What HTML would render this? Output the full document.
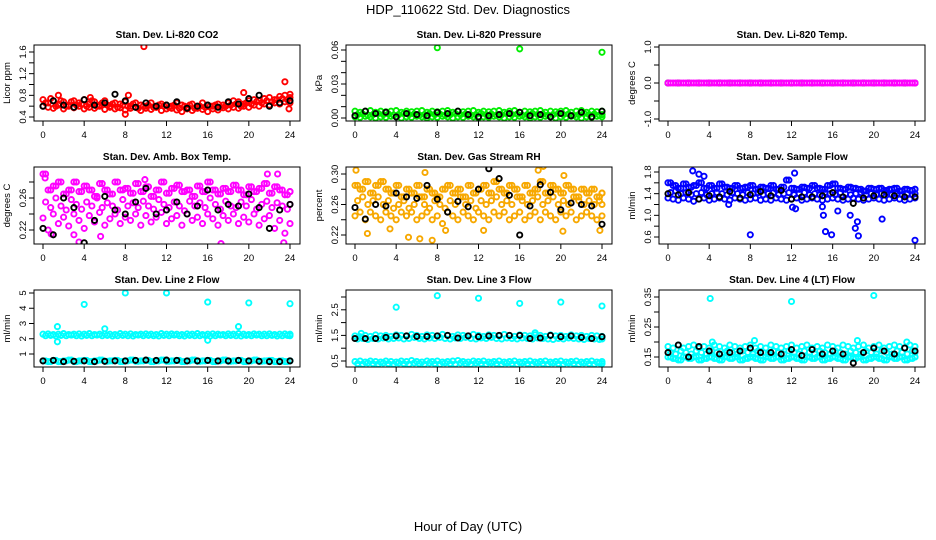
<!DOCTYPE html>
<html><head><meta charset="utf-8"><style>
html,body{margin:0;padding:0;background:#fff;}
svg{display:block;font-family:"Liberation Sans",sans-serif;}
</style></head><body>
<svg id="c" width="936" height="540" viewBox="0 0 936 540">
<text x="468" y="14" text-anchor="middle" font-size="13">HDP_110622  Std. Dev. Diagnostics</text>
<text x="468" y="531" text-anchor="middle" font-size="13">Hour of Day (UTC)</text>
</svg>
<script>
// ---------- data ----------
const halfHours = Array.from({length:49},(_,i)=>i*0.5);
const quarterHours = Array.from({length:49},(_,i)=>Math.min(24,i*0.5+0.25));
const wholeHours = Array.from({length:25},(_,i)=>i);

const co2A=[0.72,0.66,0.7,0.64,0.68,0.62,0.7,0.66,0.72,0.64,0.68,0.62,0.7,0.6,0.66,0.64,0.68,0.6,0.66,0.62,0.6,0.66,0.58,0.64,0.62,0.6,0.66,0.62,0.58,0.64,0.6,0.66,0.62,0.6,0.64,0.62,0.66,0.7,0.68,0.64,0.7,0.72,0.7,0.74,0.76,0.72,0.78,0.8,0.76];
const co2B=[0.6,0.58,0.56,0.62,0.55,0.6,0.57,0.6,0.55,0.58,0.56,0.6,0.54,0.58,0.55,0.57,0.53,0.56,0.58,0.52,0.56,0.54,0.58,0.52,0.55,0.56,0.53,0.5,0.55,0.52,0.56,0.54,0.5,0.55,0.53,0.57,0.55,0.58,0.56,0.6,0.58,0.62,0.6,0.64,0.62,0.66,0.64,0.68,0.66];
const co2C=[0.66,0.74,0.6,0.7,0.6,0.68,0.62,0.64,0.6,0.7,0.6,0.66,0.62,0.64,0.58,0.62,0.6,0.64,0.56,0.6,0.62,0.58,0.62,0.6,0.58,0.62,0.56,0.6,0.62,0.56,0.6,0.58,0.6,0.62,0.58,0.6,0.62,0.64,0.6,0.66,0.64,0.68,0.66,0.7,0.68,0.72,0.74,0.72,0.82];
const co2OutX=[9.8,23.5,8,1.5,4.6,8.3,19.5,23.9];
const co2OutY=[1.7,1.05,0.45,0.8,0.76,0.8,0.85,0.55];
const co2Black=[0.6,0.7,0.62,0.58,0.72,0.62,0.66,0.82,0.7,0.58,0.66,0.6,0.62,0.68,0.56,0.6,0.62,0.58,0.68,0.64,0.74,0.8,0.6,0.66,0.7];

const presA=[0.006,0.005,0.006,0.0065,0.005,0.006,0.0055,0.006,0.0065,0.005,0.006,0.0055,0.006,0.0065,0.005,0.006,0.0055,0.006,0.0065,0.005,0.006,0.0055,0.006,0.0065,0.005,0.006,0.0055,0.006,0.0065,0.005,0.006,0.0065,0.005,0.006,0.0055,0.006,0.0065,0.005,0.006,0.0055,0.006,0.0065,0.005,0.006,0.0065,0.005,0.006,0.0055,0.006];
const presB=[0.003,0.0035,0.0025,0.003,0.004,0.003,0.0035,0.0025,0.003,0.004,0.003,0.0035,0.0025,0.003,0.004,0.003,0.0035,0.0025,0.003,0.004,0.003,0.0035,0.0025,0.003,0.004,0.003,0.0035,0.0025,0.003,0.004,0.003,0.0035,0.0025,0.003,0.004,0.003,0.0035,0.0025,0.003,0.004,0.003,0.0035,0.0025,0.003,0.004,0.003,0.0035,0.0025,0.003];
const presC=[0.001,0.0005,0.0015,0.001,0,0.001,0.0005,0.0015,0.001,0,0.001,0.0005,0.0015,0.001,0,0.001,0.0005,0.0015,0.001,0,0.001,0.0005,0.0015,0.001,0,0.001,0.0005,0.0015,0.001,0,0.001,0.0005,0.0015,0.001,0,0.001,0.0005,0.0015,0.001,0,0.001,0.0005,0.0015,0.001,0,0.001,0.0005,0.0015,0.001];
const presOutX=[8,16,24];
const presOutY=[0.062,0.061,0.058];
const presBlack=[0.002,0.006,0.004,0.005,0.001,0.004,0.003,0.002,0.005,0.004,0.006,0.003,0.001,0.002,0.003,0.004,0.005,0.002,0.003,0.001,0.004,0.002,0.005,0.001,0.006];

const tempMag=Array(49).fill(0);
const tempBlack=Array(25).fill(0);

const ambA=[0.29,0.27,0.275,0.28,0.265,0.27,0.28,0.268,0.275,0.27,0.262,0.278,0.27,0.265,0.28,0.27,0.272,0.266,0.278,0.268,0.274,0.262,0.27,0.28,0.266,0.272,0.276,0.268,0.27,0.262,0.275,0.268,0.28,0.27,0.265,0.272,0.268,0.276,0.27,0.264,0.274,0.268,0.272,0.278,0.266,0.274,0.27,0.264,0.268];
const ambB=[0.255,0.248,0.26,0.25,0.245,0.258,0.252,0.246,0.255,0.25,0.26,0.248,0.254,0.25,0.245,0.258,0.25,0.254,0.248,0.256,0.25,0.246,0.258,0.252,0.248,0.255,0.25,0.244,0.256,0.25,0.254,0.248,0.26,0.252,0.246,0.256,0.25,0.248,0.255,0.25,0.258,0.246,0.252,0.256,0.248,0.254,0.25,0.246,0.252];
const ambC=[0.235,0.22,0.24,0.228,0.236,0.225,0.24,0.232,0.222,0.238,0.23,0.242,0.226,0.234,0.24,0.228,0.236,0.232,0.24,0.226,0.238,0.23,0.236,0.242,0.228,0.234,0.238,0.226,0.24,0.232,0.236,0.228,0.24,0.234,0.226,0.238,0.232,0.24,0.228,0.236,0.23,0.24,0.226,0.234,0.238,0.222,0.232,0.216,0.228];
const ambOutX=[0.2,0.8,3.5,17.3,21.8,22.8,23.4,9.9,5.6,3.0];
const ambOutY=[0.285,0.215,0.205,0.203,0.29,0.29,0.204,0.283,0.212,0.214];
const ambBlack=[0.222,0.214,0.26,0.248,0.204,0.232,0.262,0.245,0.24,0.255,0.272,0.24,0.245,0.255,0.24,0.25,0.27,0.245,0.252,0.25,0.265,0.248,0.222,0.245,0.252];

const rhA=[0.285,0.28,0.29,0.275,0.285,0.29,0.28,0.275,0.285,0.27,0.28,0.275,0.285,0.27,0.28,0.275,0.27,0.28,0.285,0.275,0.28,0.27,0.285,0.275,0.28,0.285,0.275,0.29,0.28,0.275,0.285,0.28,0.27,0.285,0.275,0.28,0.29,0.275,0.285,0.28,0.275,0.285,0.28,0.27,0.28,0.275,0.28,0.27,0.275];
const rhB=[0.265,0.27,0.26,0.265,0.27,0.26,0.265,0.255,0.26,0.265,0.255,0.26,0.27,0.26,0.255,0.265,0.26,0.255,0.265,0.26,0.27,0.26,0.265,0.255,0.265,0.26,0.265,0.27,0.26,0.265,0.26,0.27,0.265,0.26,0.265,0.27,0.26,0.265,0.27,0.26,0.265,0.26,0.27,0.265,0.26,0.265,0.26,0.265,0.26];
const rhC=[0.245,0.25,0.24,0.25,0.245,0.24,0.25,0.245,0.24,0.25,0.245,0.25,0.24,0.245,0.25,0.24,0.245,0.235,0.25,0.245,0.24,0.25,0.245,0.24,0.25,0.245,0.24,0.25,0.245,0.25,0.24,0.245,0.25,0.24,0.245,0.25,0.24,0.25,0.245,0.24,0.25,0.245,0.25,0.24,0.245,0.25,0.245,0.24,0.245];
const rhOutX=[0.1,1.2,3.4,5.2,6.3,7.5,8.8,12.5,17.8,18.3,20.2,23.8,6.8,20.3];
const rhOutY=[0.305,0.222,0.228,0.217,0.215,0.213,0.226,0.226,0.305,0.31,0.225,0.226,0.302,0.298];
const rhBlack=[0.256,0.241,0.26,0.258,0.275,0.27,0.268,0.285,0.267,0.25,0.264,0.257,0.28,0.307,0.294,0.272,0.22,0.258,0.286,0.276,0.253,0.262,0.26,0.258,0.234];

const flowA=[1.6,1.55,1.5,1.58,1.52,1.55,1.6,1.5,1.55,1.5,1.58,1.52,1.5,1.55,1.5,1.52,1.55,1.48,1.52,1.5,1.55,1.48,1.52,1.65,1.5,1.48,1.52,1.5,1.55,1.5,1.48,1.55,1.58,1.5,1.48,1.52,1.5,1.48,1.45,1.5,1.48,1.5,1.46,1.48,1.5,1.45,1.48,1.46,1.48];
const flowB=[1.42,1.45,1.4,1.42,1.38,1.4,1.42,1.38,1.4,1.42,1.4,1.38,1.42,1.4,1.38,1.42,1.4,1.42,1.38,1.4,1.42,1.38,1.4,1.42,1.38,1.4,1.42,1.38,1.4,1.38,1.42,1.4,1.38,1.42,1.4,1.38,1.4,1.42,1.38,1.4,1.38,1.4,1.42,1.38,1.4,1.38,1.4,1.38,1.4];
const flowC=[1.32,1.3,1.28,1.32,1.3,1.26,1.3,1.32,1.28,1.3,1.32,1.3,1.28,1.32,1.3,1.28,1.3,1.32,1.28,1.3,1.28,1.32,1.3,1.28,1.3,1.32,1.28,1.3,1.32,1.3,1.28,1.3,1.32,1.3,1.28,1.3,1.32,1.3,1.28,1.3,1.32,1.3,1.28,1.3,1.32,1.3,1.28,1.3,1.32];
const flowOutX=[2.4,3,3.5,8,12.3,12.1,15.1,15.3,15.9,16.5,17.7,18.2,18.4,18.5,20.8,24,5.9,12.4,15];
const flowOutY=[1.82,1.76,1.72,0.64,1.78,1.15,1.0,0.7,0.64,1.08,1.0,0.76,0.88,0.62,0.93,0.54,1.2,1.12,1.16];
const flowBlack=[1.4,1.38,1.42,1.3,1.36,1.34,1.44,1.32,1.38,1.44,1.36,1.46,1.3,1.34,1.34,1.36,1.42,1.34,1.22,1.32,1.36,1.38,1.36,1.34,1.34];

const l2A=[2.3,2.32,2.28,2.3,2.34,2.28,2.3,2.32,2.3,2.34,2.28,2.3,2.32,2.3,2.28,2.34,2.3,2.32,2.28,2.3,2.32,2.3,2.28,2.34,2.3,2.32,2.3,2.28,2.32,2.3,2.34,2.28,2.3,2.32,2.3,2.28,2.32,2.3,2.34,2.3,2.28,2.32,2.3,2.3,2.32,2.28,2.3,2.32,2.3];
const l2B=[2.2,2.22,2.18,2.22,2.2,2.24,2.2,2.18,2.22,2.2,2.24,2.2,2.22,2.18,2.2,2.22,2.2,2.18,2.24,2.2,2.22,2.2,2.18,2.22,2.2,2.24,2.2,2.18,2.22,2.2,2.2,2.22,2.18,2.2,2.24,2.2,2.22,2.2,2.18,2.22,2.2,2.24,2.2,2.2,2.22,2.18,2.2,2.22,2.2];
const l2Lo=[0.55,0.5,0.58,0.5,0.55,0.6,0.5,0.55,0.58,0.5,0.55,0.6,0.52,0.55,0.58,0.5,0.55,0.6,0.52,0.55,0.58,0.5,0.55,0.6,0.52,0.55,0.58,0.5,0.55,0.6,0.52,0.55,0.58,0.5,0.55,0.6,0.52,0.55,0.58,0.5,0.55,0.6,0.52,0.55,0.58,0.5,0.55,0.5,0.55];
const l2OutX=[1.4,1.4,4,6,8,12,16,16,19,20,24];
const l2OutY=[2.8,1.8,4.25,2.65,5,5,4.4,1.9,2.8,4.35,4.3];
const l2Black=[0.55,0.58,0.5,0.52,0.55,0.5,0.52,0.55,0.55,0.58,0.6,0.58,0.6,0.58,0.55,0.55,0.58,0.55,0.55,0.58,0.55,0.52,0.5,0.5,0.55];

const l3A=[1.48,1.45,1.5,1.46,1.52,1.48,1.5,1.46,1.52,1.5,1.48,1.54,1.5,1.46,1.52,1.5,1.48,1.54,1.5,1.46,1.52,1.5,1.48,1.54,1.5,1.46,1.52,1.5,1.48,1.54,1.5,1.46,1.52,1.5,1.48,1.52,1.5,1.46,1.52,1.48,1.5,1.46,1.52,1.48,1.5,1.46,1.5,1.48,1.46];
const l3B=[1.36,1.38,1.34,1.38,1.36,1.4,1.36,1.38,1.4,1.36,1.38,1.42,1.38,1.36,1.4,1.38,1.42,1.38,1.36,1.4,1.38,1.42,1.38,1.36,1.4,1.38,1.42,1.38,1.36,1.4,1.38,1.36,1.4,1.38,1.36,1.4,1.38,1.36,1.34,1.38,1.36,1.4,1.38,1.36,1.34,1.38,1.36,1.34,1.36];
const l3LoA=[0.48,0.5,0.46,0.5,0.48,0.46,0.5,0.48,0.46,0.5,0.48,0.52,0.48,0.46,0.5,0.48,0.5,0.46,0.48,0.5,0.52,0.48,0.46,0.5,0.48,0.5,0.46,0.48,0.5,0.46,0.48,0.5,0.46,0.48,0.5,0.46,0.48,0.5,0.46,0.48,0.5,0.46,0.48,0.5,0.46,0.48,0.5,0.46,0.48];
const l3LoB=[0.4,0.38,0.42,0.4,0.38,0.42,0.4,0.38,0.42,0.4,0.38,0.42,0.4,0.38,0.42,0.4,0.38,0.42,0.4,0.38,0.42,0.4,0.38,0.42,0.4,0.38,0.42,0.4,0.38,0.42,0.4,0.38,0.42,0.4,0.38,0.42,0.4,0.38,0.42,0.4,0.38,0.42,0.4,0.38,0.42,0.4,0.38,0.42,0.4];
const l3OutX=[4,8,12,16,20,24,0.6,17.5];
const l3OutY=[2.6,3.05,2.95,2.75,2.8,2.65,1.58,1.6];
const l3Black=[1.38,1.38,1.38,1.42,1.48,1.48,1.46,1.46,1.48,1.5,1.4,1.48,1.45,1.48,1.5,1.5,1.5,1.38,1.4,1.5,1.45,1.48,1.42,1.38,1.45];

const l4A=[0.185,0.18,0.19,0.18,0.185,0.19,0.18,0.185,0.18,0.19,0.185,0.18,0.19,0.185,0.18,0.185,0.19,0.18,0.185,0.18,0.19,0.185,0.18,0.185,0.19,0.18,0.185,0.19,0.18,0.185,0.18,0.19,0.185,0.18,0.19,0.185,0.18,0.185,0.19,0.18,0.185,0.19,0.18,0.185,0.19,0.185,0.18,0.19,0.185];
const l4B=[0.165,0.16,0.17,0.165,0.16,0.17,0.165,0.16,0.17,0.165,0.16,0.17,0.165,0.16,0.17,0.165,0.16,0.17,0.165,0.16,0.17,0.165,0.16,0.17,0.165,0.16,0.17,0.165,0.16,0.17,0.165,0.16,0.17,0.165,0.16,0.17,0.165,0.16,0.17,0.165,0.16,0.17,0.165,0.16,0.17,0.165,0.16,0.17,0.165];
const l4C=[0.15,0.145,0.14,0.15,0.145,0.15,0.14,0.145,0.15,0.145,0.14,0.15,0.145,0.15,0.14,0.145,0.15,0.145,0.14,0.15,0.145,0.15,0.14,0.145,0.15,0.145,0.14,0.15,0.145,0.15,0.14,0.145,0.15,0.145,0.14,0.15,0.145,0.15,0.14,0.145,0.15,0.145,0.14,0.15,0.145,0.15,0.14,0.145,0.15];
const l4OutX=[4.1,12,20,4.3,8.4,18.4,23.2];
const l4OutY=[0.345,0.335,0.355,0.2,0.205,0.205,0.2];
const l4Black=[0.165,0.19,0.15,0.185,0.17,0.16,0.165,0.17,0.18,0.165,0.165,0.16,0.175,0.155,0.175,0.16,0.17,0.16,0.13,0.165,0.18,0.17,0.16,0.18,0.17];

// ---------- layout ----------
const svg=document.getElementById('c');
const NS='http://www.w3.org/2000/svg';
function mk(tag,attrs,parent){const e=document.createElementNS(NS,tag);for(const k in attrs)e.setAttribute(k,attrs[k]);(parent||svg).appendChild(e);return e;}

const cols=[[34,300],[346,612],[659,925]];
const rows=[[45,121],[167,244],[290,367]];

const panels=[
 {name:'co2',title:'Stan. Dev. Li-820 CO2',ylab:'Licor ppm',c:0,r:0,cal:[0.4,117,1.6,52],ticks:[0.4,0.6,0.8,1.0,1.2,1.4,1.6],labels:{0.4:'0.4',0.8:'0.8',1.2:'1.2',1.6:'1.6'},
  series:[[halfHours,co2A,'#ff0000'],[halfHours,co2B,'#ff0000'],[quarterHours,co2C,'#ff0000'],[co2OutX,co2OutY,'#ff0000'],[wholeHours,co2Black,'#000']]},
 {name:'pressure',title:'Stan. Dev. Li-820 Pressure',ylab:'kPa',c:1,r:0,cal:[0,118,0.06,50],ticks:[0,0.01,0.02,0.03,0.04,0.05,0.06],labels:{0:'0.00',0.03:'0.03',0.06:'0.06'},
  series:[[halfHours,presA,'#00ee00'],[quarterHours,presB,'#00ee00'],[halfHours,presC,'#00ee00'],[presOutX,presOutY,'#00ee00'],[wholeHours,presBlack,'#000']]},
 {name:'temp',title:'Stan. Dev. Li-820 Temp.',ylab:'degrees C',c:2,r:0,cal:[-1,119,1,47],ticks:[-1,-0.5,0,0.5,1],labels:{'-1':'-1.0','0':'0.0','1':'1.0'},
  series:[[wholeHours,tempBlack,'#000'],[halfHours,tempMag,'#ff00ff'],[quarterHours,tempMag,'#ff00ff']]},
 {name:'amb-temp',title:'Stan. Dev. Amb. Box Temp.',ylab:'degrees C',c:0,r:1,cal:[0.22,230,0.26,198],ticks:[0.22,0.24,0.26,0.28],labels:{0.22:'0.22',0.26:'0.26'},
  series:[[halfHours,ambA,'#ff00ff'],[quarterHours,ambB,'#ff00ff'],[halfHours,ambC,'#ff00ff'],[quarterHours,ambA,'#ff00ff'],[ambOutX,ambOutY,'#ff00ff'],[wholeHours,ambBlack,'#000']]},
 {name:'rh',title:'Stan. Dev. Gas Stream RH',ylab:'percent',c:1,r:1,cal:[0.22,235,0.30,174],ticks:[0.22,0.24,0.26,0.28,0.30],labels:{0.22:'0.22',0.26:'0.26',0.3:'0.30'},
  series:[[halfHours,rhA,'#f7a800'],[quarterHours,rhB,'#f7a800'],[halfHours,rhC,'#f7a800'],[quarterHours,rhA,'#f7a800'],[rhOutX,rhOutY,'#f7a800'],[wholeHours,rhBlack,'#000']]},
 {name:'sample-flow',title:'Stan. Dev. Sample Flow',ylab:'ml/min',c:2,r:1,cal:[0.6,237,1.8,172],ticks:[0.6,0.8,1.0,1.2,1.4,1.6,1.8],labels:{0.6:'0.6',1:'1.0',1.4:'1.4',1.8:'1.8'},
  series:[[halfHours,flowA,'#0000ff'],[quarterHours,flowB,'#0000ff'],[halfHours,flowC,'#0000ff'],[quarterHours,flowA,'#0000ff'],[flowOutX,flowOutY,'#0000ff'],[wholeHours,flowBlack,'#000']]},
 {name:'line2',title:'Stan. Dev. Line 2 Flow',ylab:'ml/min',c:0,r:2,cal:[1,354,5,293],ticks:[1,2,3,4,5],labels:{1:'1',2:'2',3:'3',4:'4',5:'5'},
  series:[[halfHours,l2A,'#00ffff'],[quarterHours,l2B,'#00ffff'],[halfHours,l2Lo,'#00ffff'],[quarterHours,l2Lo,'#00ffff'],[l2OutX,l2OutY,'#00ffff'],[wholeHours,l2Black,'#000']]},
 {name:'line3',title:'Stan. Dev. Line 3 Flow',ylab:'ml/min',c:1,r:2,cal:[0.5,361,3.0,297],ticks:[0.5,1,1.5,2,2.5,3],labels:{0.5:'0.5',1.5:'1.5',2.5:'2.5'},
  series:[[halfHours,l3A,'#00ffff'],[quarterHours,l3B,'#00ffff'],[halfHours,l3LoA,'#00ffff'],[quarterHours,l3LoB,'#00ffff'],[l3OutX,l3OutY,'#00ffff'],[wholeHours,l3Black,'#000']]},
 {name:'line4',title:'Stan. Dev. Line 4 (LT) Flow',ylab:'ml/min',c:2,r:2,cal:[0.15,357,0.35,297],ticks:[0.15,0.2,0.25,0.3,0.35],labels:{0.15:'0.15',0.25:'0.25',0.35:'0.35'},
  series:[[halfHours,l4A,'#00ffff'],[quarterHours,l4B,'#00ffff'],[halfHours,l4C,'#00ffff'],[quarterHours,l4C,'#00ffff'],[l4OutX,l4OutY,'#00ffff'],[wholeHours,l4Black,'#000']]}
];
const xTicks=[0,4,8,12,16,20,24];

panels.forEach(p=>{
  const [x0,x1]=cols[p.c],[y0,y1]=rows[p.r];
  const g=mk('g',{});
  
  
  const xs=h=>x0+9+(h/24)*(x1-x0-19);
  const [va,pa,vb,pb]=p.cal;
  const ys=v=>pa+(v-va)*(pb-pa)/(vb-va);
  const clip=mk('clipPath',{id:'cl-'+p.name},g);
  mk('rect',{x:x0,y:y0,width:x1-x0,height:y1-y0},clip);
  const t=mk('text',{x:(x0+x1)/2,y:y0-7,'text-anchor':'middle','font-size':'10','font-weight':'bold'},g);
  t.textContent=p.title;
  
  
  const yl=mk('text',{x:0,y:0,'text-anchor':'middle','font-size':'9.5',transform:`translate(${x0-24},${(y0+y1)/2}) rotate(-90)`},g);
  yl.textContent=p.ylab;
  
  
  const pts=mk('g',{'clip-path':`url(#cl-${p.name})`,fill:'none','stroke-width':'1.9'},g);
  p.series.forEach(s=>{
    const [hx,vy,col]=s;
    vy.forEach((v,i)=>{
      const c=mk('circle',{cx:xs(hx[i]).toFixed(1),cy:ys(v).toFixed(1),r:2.6,stroke:col},pts);
      
      
    });
  });
  const box=mk('rect',{x:x0,y:y0,width:x1-x0,height:y1-y0,fill:'none',stroke:'#000','stroke-width':'1'},g);
  
  
  xTicks.forEach(h=>{
    mk('line',{x1:xs(h),x2:xs(h),y1:y1,y2:y1+5,stroke:'#000'},g);
    const tx=mk('text',{x:xs(h),y:y1+17,'text-anchor':'middle','font-size':'9.5'},g);
    tx.textContent=h;
    
    
  });
  p.ticks.forEach(v=>{
    mk('line',{x1:x0,x2:x0-5,y1:ys(v),y2:ys(v),stroke:'#000'},g);
    const key=Object.keys(p.labels).find(k=>Math.abs(parseFloat(k)-v)<1e-9);
    if(key!==undefined){
      const ty=mk('text',{x:0,y:0,'text-anchor':'middle','font-size':'9.5',transform:`translate(${x0-8},${ys(v)}) rotate(-90)`},g);
      ty.textContent=p.labels[key];
      
      
    }
  });
});
</script>
</body></html>
